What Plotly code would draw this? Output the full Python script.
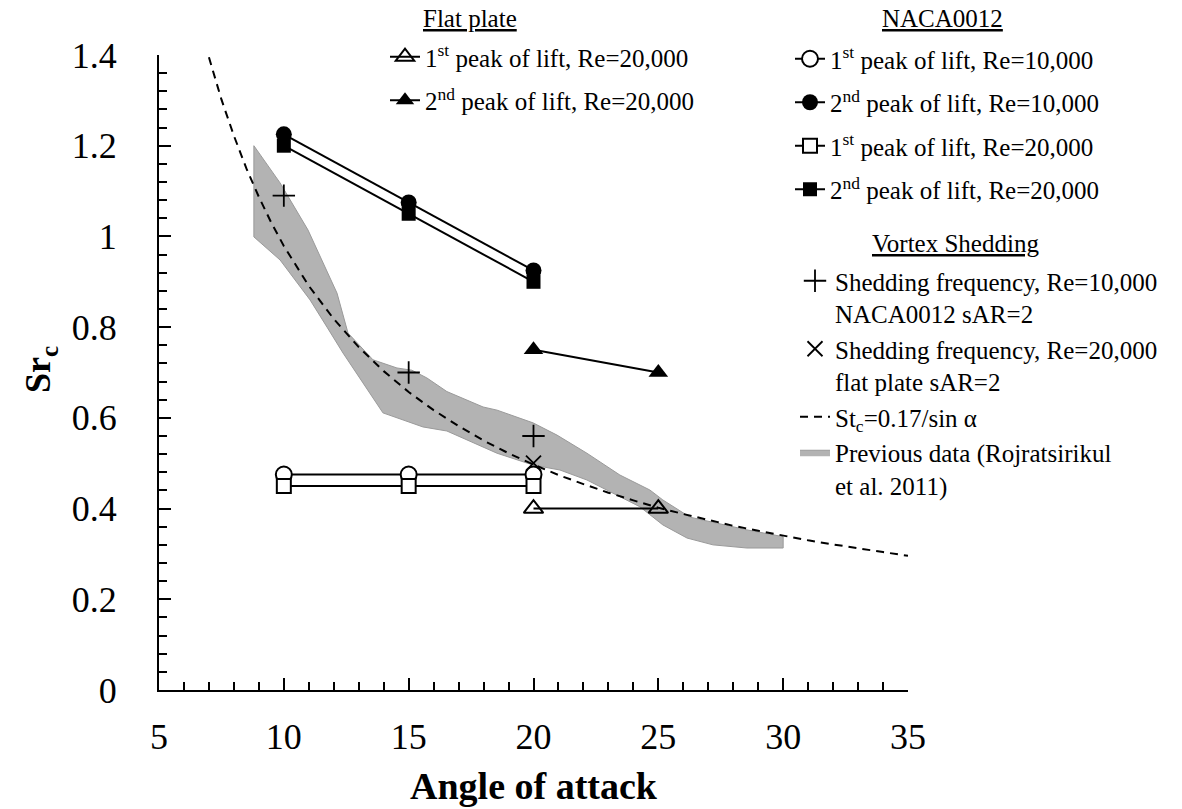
import plotly.graph_objects as go

# ---------------- data ----------------
alpha_naca = [10, 15, 20]
naca_re10k_1st = [0.475, 0.475, 0.475]
naca_re10k_2nd = [1.225, 1.075, 0.925]
naca_re20k_1st = [0.45, 0.45, 0.45]
naca_re20k_2nd = [1.20, 1.05, 0.90]

alpha_flat = [20, 25]
flat_re20k_1st = [0.40, 0.40]
flat_re20k_2nd = [0.75, 0.70]

alpha_shed_naca = [10, 15, 20]
shed_naca_re10k = [1.09, 0.70, 0.56]
alpha_shed_flat = [20]
shed_flat_re20k = [0.50]

# St_c = 0.17 / sin(alpha), tabulated
alpha_st = [7, 7.5, 8, 8.5, 9, 9.5, 10, 11, 12, 13, 14, 15, 16, 17, 18, 19, 20,
            21, 22, 23, 24, 25, 26, 27, 28, 29, 30, 31, 32, 33, 34, 35]
st_curve = [1.395, 1.302, 1.222, 1.150, 1.087, 1.030, 0.979, 0.891, 0.818, 0.756,
            0.703, 0.657, 0.617, 0.582, 0.550, 0.522, 0.497, 0.474, 0.454, 0.435,
            0.418, 0.402, 0.388, 0.375, 0.362, 0.351, 0.340, 0.330, 0.321, 0.312,
            0.304, 0.296]

# Previous data band (Rojratsirikul et al. 2011): upper edge then lower edge
band_upper_x = [8.8, 9.85, 10.97, 12.13, 12.57, 13.57, 14.53, 15.13, 15.73, 16.53,
                17.98, 18.54, 19.98, 20.94, 22.14, 23.46, 24.66, 25.18, 26.27,
                27.19, 28.55, 30.0]
band_upper_y = [1.20, 1.118, 1.014, 0.875, 0.787, 0.728, 0.710, 0.705, 0.688, 0.658,
                0.624, 0.617, 0.589, 0.562, 0.522, 0.474, 0.441, 0.419, 0.381,
                0.370, 0.353, 0.338]
band_lower_x = [30.0, 28.55, 27.19, 26.15, 25.18, 24.26, 23.18, 22.14, 21.06, 19.98,
                18.54, 16.93, 16.53, 15.57, 13.97, 13.17, 12.37, 11.73, 11.05,
                9.85, 8.8]
band_lower_y = [0.313, 0.313, 0.320, 0.335, 0.364, 0.404, 0.434, 0.463, 0.485,
                0.496, 0.522, 0.562, 0.571, 0.580, 0.611, 0.677, 0.743, 0.800,
                0.860, 0.948, 0.999]

x_range = [5, 35]
y_range = [0, 1.4]

group_titles = ["Flat plate", "NACA0012", "Vortex Shedding"]
x_title = "Angle of attack"
y_title = "Sr<sub>c</sub>"

FONT = "Liberation Serif"
LEG_FONT = 25

W, H = 1182, 809
ML, MR, MT, MB = 159, 274, 55, 119
PW, PH = W - ML - MR, H - MT - MB


def px_to_paper(px, py):
    return (px - ML) / PW, (H - MB - py) / PH


fig = go.Figure()

# band
fig.add_trace(go.Scatter(
    x=band_upper_x + band_lower_x + [band_upper_x[0]],
    y=band_upper_y + band_lower_y + [band_upper_y[0]],
    mode="lines", fill="toself", fillcolor="#b3b3b3",
    line=dict(color="#9a9a9a", width=1),
    name="Previous data (Rojratsirikul<br>et al. 2011)",
    legend="legend3", legendgroup="band", legendrank=4,
))

# St curve
fig.add_trace(go.Scatter(
    x=alpha_st, y=st_curve, mode="lines",
    line=dict(color="black", width=2, dash="8px,6px"),
    name="St<sub>c</sub>=0.17/sin α",
    legend="legend3", legendgroup="st", legendrank=3,
))

line_style = dict(color="black", width=2)

# Flat plate
fig.add_trace(go.Scatter(
    x=alpha_flat, y=flat_re20k_1st, mode="lines+markers", line=line_style,
    marker=dict(symbol="triangle-up-open", size=17, color="black",
                line=dict(width=2, color="black")),
    name="1<sup>st</sup> peak of lift, Re=20,000",
    legend="legend", legendgroup="f1", legendrank=1,
))
fig.add_trace(go.Scatter(
    x=alpha_flat, y=flat_re20k_2nd, mode="lines+markers", line=line_style,
    marker=dict(symbol="triangle-up", size=17, color="black"),
    name="2<sup>nd</sup> peak of lift, Re=20,000",
    legend="legend", legendgroup="f2", legendrank=2,
))

# NACA0012
fig.add_trace(go.Scatter(
    x=alpha_naca, y=naca_re10k_1st, mode="lines+markers", line=line_style,
    marker=dict(symbol="circle", size=16, color="white",
                line=dict(width=2, color="black")),
    name="1<sup>st</sup> peak of lift, Re=10,000",
    legend="legend2", legendgroup="n1", legendrank=1,
))
fig.add_trace(go.Scatter(
    x=alpha_naca, y=naca_re10k_2nd, mode="lines+markers", line=line_style,
    marker=dict(symbol="circle", size=16, color="black"),
    name="2<sup>nd</sup> peak of lift, Re=10,000",
    legend="legend2", legendgroup="n2", legendrank=2,
))
fig.add_trace(go.Scatter(
    x=alpha_naca, y=naca_re20k_1st, mode="lines+markers", line=line_style,
    marker=dict(symbol="square", size=14, color="white",
                line=dict(width=2, color="black")),
    name="1<sup>st</sup> peak of lift, Re=20,000",
    legend="legend2", legendgroup="n3", legendrank=3,
))
fig.add_trace(go.Scatter(
    x=alpha_naca, y=naca_re20k_2nd, mode="lines+markers", line=line_style,
    marker=dict(symbol="square", size=14, color="black"),
    name="2<sup>nd</sup> peak of lift, Re=20,000",
    legend="legend2", legendgroup="n4", legendrank=4,
))

# Vortex shedding
fig.add_trace(go.Scatter(
    x=alpha_shed_naca, y=shed_naca_re10k, mode="markers",
    marker=dict(symbol="cross-thin", size=16, color="black",
                line=dict(width=1.8, color="black")),
    name="Shedding frequency, Re=10,000<br>NACA0012 sAR=2",
    legend="legend3", legendgroup="s1", legendrank=1,
))
fig.add_trace(go.Scatter(
    x=alpha_shed_flat, y=shed_flat_re20k, mode="markers",
    marker=dict(symbol="x-thin", size=15, color="black",
                line=dict(width=1.8, color="black")),
    name="Shedding frequency, Re=20,000<br>flat plate sAR=2",
    legend="legend3", legendgroup="s2", legendrank=2,
))

leg_common = dict(
    xref="container", yref="container", xanchor="left", yanchor="top",
    bgcolor="rgba(0,0,0,0)", font=dict(family=FONT, size=LEG_FONT, color="black"),
    traceorder="grouped", itemwidth=30,
)

annotations = []
for (tx, ty), txt in zip([(470, 18), (942, 18), (955, 243)], group_titles):
    ax, ay = px_to_paper(tx, ty)
    annotations.append(dict(
        x=ax, y=ay, xref="paper", yref="paper", xanchor="center", yanchor="middle",
        text=f"<u>{txt}</u>", showarrow=False,
        font=dict(family=FONT, size=LEG_FONT, color="black"),
    ))

# y-axis title
yt_x, yt_y = px_to_paper(40, 370)
annotations.append(dict(
    x=yt_x, y=yt_y, xref="paper", yref="paper", xanchor="center", yanchor="middle",
    text=f"<b>{y_title}</b>", textangle=-90, showarrow=False,
    font=dict(family=FONT, size=36, color="black"),
))

fig.update_layout(
    width=W, height=H,
    margin=dict(l=ML, r=MR, t=MT, b=MB, autoexpand=False),
    plot_bgcolor="white", paper_bgcolor="white",
    font=dict(family=FONT, color="black"),
    legend=dict(**leg_common, x=385 / W, y=1 - 34 / H, tracegroupgap=8),
    legend2=dict(**leg_common, x=790 / W, y=1 - 36 / H, tracegroupgap=8),
    legend3=dict(**leg_common, x=795 / W, y=1 - 258 / H, valign="top",
                 tracegroupgap=0),
    annotations=annotations,
)

fig.update_xaxes(
    range=x_range, dtick=5, tick0=5,
    showline=True, linecolor="black", linewidth=2, mirror=False,
    ticks="inside", ticklen=12, tickwidth=1.5, tickcolor="black",
    minor=dict(dtick=1, ticks="inside", ticklen=8, tickwidth=1.5, tickcolor="black"),
    showgrid=False, zeroline=False,
    tickfont=dict(family=FONT, size=36, color="black"),
    ticklabelstandoff=14,
    title=dict(text=f"<b>{x_title}</b>", font=dict(family=FONT, size=38),
               standoff=16),
)
fig.update_yaxes(
    range=y_range, dtick=0.2, tick0=0,
    showline=True, linecolor="black", linewidth=2, mirror=False,
    ticks="inside", ticklen=12, tickwidth=1.5, tickcolor="black",
    minor=dict(dtick=0.04, ticks="inside", ticklen=8, tickwidth=1.5, tickcolor="black"),
    showgrid=False, zeroline=False,
    tickfont=dict(family=FONT, size=36, color="black"),
    ticklabelstandoff=33,
    title=dict(text=""),
)

fig.write_html("out.html")
